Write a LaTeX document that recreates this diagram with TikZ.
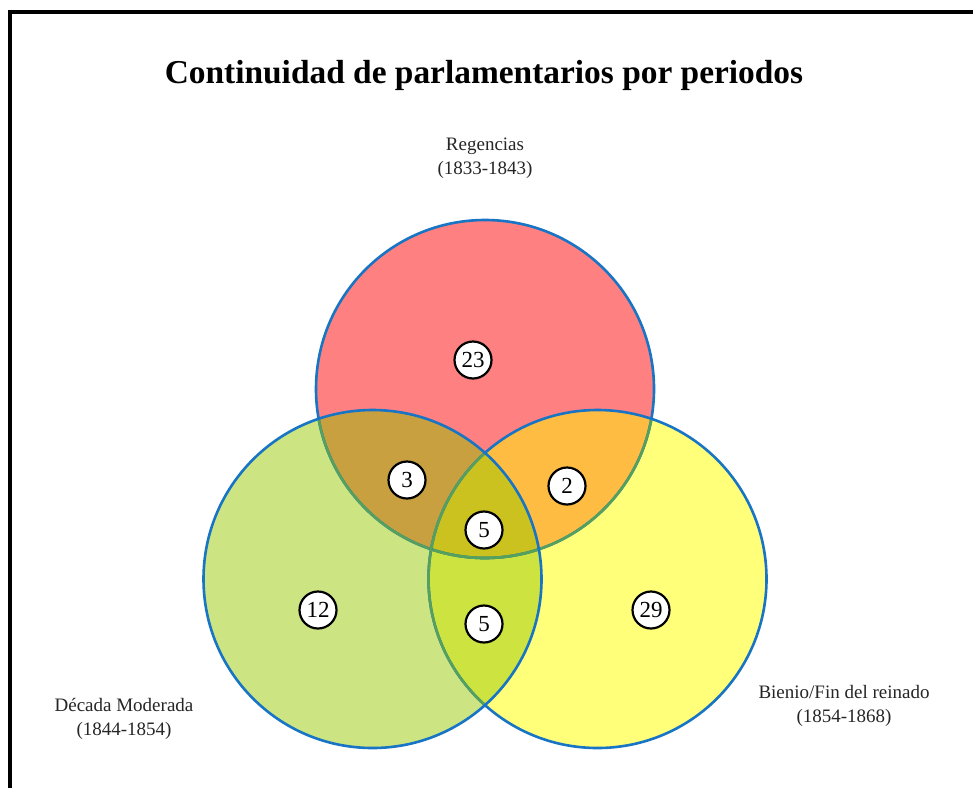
\documentclass[tikz,border=0pt]{standalone}
\usepackage{fontspec}
\setmainfont{Liberation Serif}
\definecolor{cred}{RGB}{255,128,128}
\definecolor{cgreen}{RGB}{204,228,130}
\definecolor{cyellow}{RGB}{255,255,122}
\definecolor{ctl}{RGB}{201,160,64}
\definecolor{ctr}{RGB}{255,188,66}
\definecolor{clr}{RGB}{205,227,64}
\definecolor{cmid}{RGB}{203,194,32}
\definecolor{cblue}{RGB}{24,116,196}
\definecolor{cgline}{RGB}{84,160,92}
\tikzset{
  badge/.style={circle, draw=black, line width=2.2pt, fill=white, minimum size=37pt, inner sep=0pt, font=\fontsize{23}{23}\selectfont},
  lbl/.style={align=center, font=\fontsize{19}{24}\selectfont, text=black!85},
  ring/.style={line width=2.6pt},
}
\begin{document}
\begin{tikzpicture}[x=1pt,y=-1pt]
\useasboundingbox (0,0) rectangle (973,787);
\fill[white] (0,0) rectangle (973,787);
\draw[line width=4pt] (9.5,790) -- (9.5,12) -- (976,12);
\def\R{169}
\coordinate (T) at (485,389);
\coordinate (L) at (372.5,579);
\coordinate (Rc) at (597.5,579);
% base fills
\fill[cred] (T) circle (\R);
\fill[cyellow] (Rc) circle (\R);
\fill[cgreen] (L) circle (\R);
% pairwise overlaps
\begin{scope}\clip (T) circle (\R); \fill[ctl] (L) circle (\R); \fill[ctr] (Rc) circle (\R); \end{scope}
\begin{scope}\clip (L) circle (\R); \fill[clr] (Rc) circle (\R); \end{scope}
\begin{scope}\clip (T) circle (\R); \clip (L) circle (\R); \fill[cmid] (Rc) circle (\R); \end{scope}
% outlines
\draw[ring, cblue] (T) circle (\R);
\begin{scope}\clip (L) circle (\R); \draw[ring, cgline] (T) circle (\R); \end{scope}
\begin{scope}\clip (Rc) circle (\R); \draw[ring, cgline] (T) circle (\R); \end{scope}
\draw[ring, cblue] (Rc) circle (\R);
\begin{scope}\clip (L) circle (\R); \draw[ring, cgline] (Rc) circle (\R); \end{scope}
\draw[ring, cblue] (L) circle (\R);
% badges
\node[badge] (n23) at (473,360) {23};
\node[badge] (n3) at (407,480) {3};
\node[badge] (n2) at (567,486) {2};
\node[badge] (n5a) at (484,530) {5};
\node[badge] (n12) at (318,610) {12};
\node[badge] (n5b) at (484,624) {5};
\node[badge] (n29) at (651,610) {29};
% texts
\node[font=\bfseries\fontsize{33.4}{36}\selectfont] (title) at (484,75) {Continuidad de parlamentarios por periodos};
\node[lbl] (lt) at (485,158) {Regencias\\(1833-1843)};
\node[lbl] (ll) at (124,719) {Década Moderada\\(1844-1854)};
\node[lbl] (lr) at (844,706) {Bienio/Fin del reinado\\(1854-1868)};
\end{tikzpicture}
\end{document}
